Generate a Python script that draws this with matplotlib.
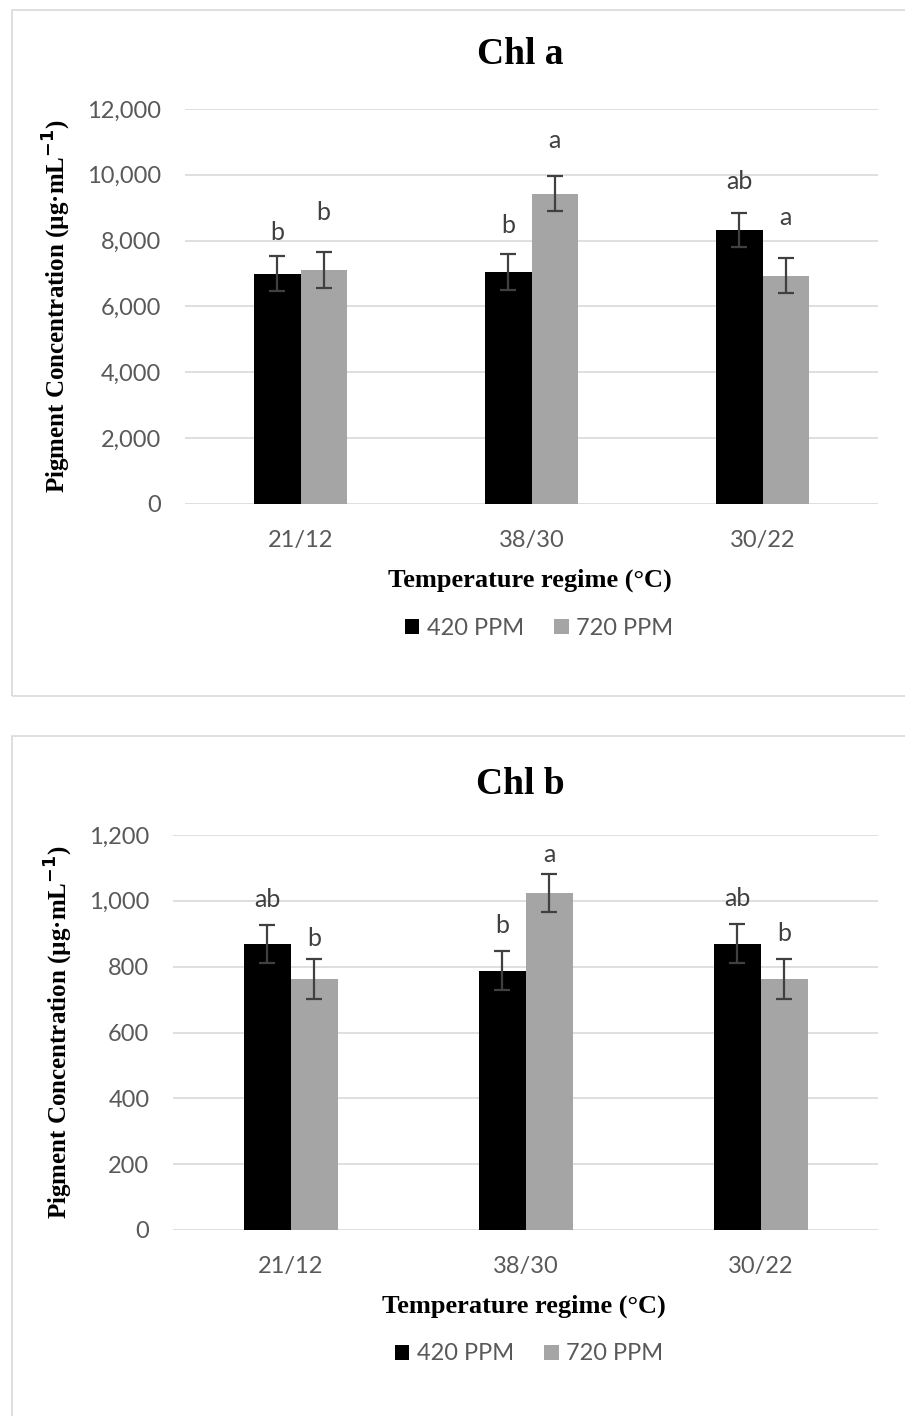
import matplotlib.pyplot as plt
from matplotlib.patches import Rectangle
from matplotlib.ticker import FuncFormatter
import numpy as np

# regimes and CO2 levels
regimes = ['21/12', '38/30', '30/22']
series = ['420 PPM', '720 PPM']

# Chl a means and SE
chla_420 = [7000, 7050, 8320]
chla_720 = [7110, 9430, 6940]
chla_420_err = [530, 535, 525]
chla_720_err = [540, 535, 545]
chla_letters_420 = ['b', 'b', 'ab']
chla_letters_720 = ['b', 'a', 'a']

# Chl b means and SE
chlb_420 = [870, 788, 870]
chlb_720 = [763, 1024, 763]
chlb_420_err = [58, 60, 60]
chlb_720_err = [60, 58, 60]
chlb_letters_420 = ['ab', 'b', 'ab']
chlb_letters_720 = ['b', 'a', 'b']

SANS = 'Lato'
SERIF = 'Liberation Serif'
BAR_COLORS = ['#000000', '#a5a5a5']
W, H = 905, 1416

fig = plt.figure(figsize=(W / 100, H / 100), dpi=100)


def fx(px):
    return px / W


def fy(py):
    return 1 - py / H


def panel(rect, title, title_y, vals, errs, letters, gaps, ymax, ystep,
          xlab_y, leg_x, leg_y):
    ax = fig.add_axes(rect)
    x = np.arange(len(regimes))
    w = 0.2
    for i, (v, e, lab, gap) in enumerate(zip(vals, errs, letters, gaps)):
        pos = x - w / 2 + i * w
        ax.bar(pos, v, w, color=BAR_COLORS[i], label=series[i], zorder=2,
               edgecolor='none')
        ax.errorbar(pos, v, yerr=e, fmt='none', ecolor='#404040',
                    elinewidth=1.6, capsize=6, capthick=1.6, zorder=3)
        for xp, vv, ee, t, g in zip(pos, v, e, lab, gap):
            ax.annotate(t, (xp, vv + ee), xytext=(0, g * 0.72),
                        textcoords='offset points', ha='center',
                        va='baseline', fontsize=18, color='#404040',
                        family=SANS)
    ax.set_xlim(-0.5, len(regimes) - 0.5)
    ax.set_ylim(0, ymax)
    ax.set_yticks(np.arange(0, ymax + 1, ystep))
    ax.yaxis.set_major_formatter(FuncFormatter(lambda v, p: f'{v:,.0f}'))
    ax.set_xticks(x)
    ax.set_xticklabels(regimes)
    ax.grid(axis='y', color='#d9d9d9', linewidth=1.2, zorder=0)
    ax.set_axisbelow(True)
    for s in ax.spines.values():
        s.set_visible(False)
    ax.tick_params(length=0, labelsize=17, labelcolor='#595959')
    ax.tick_params(axis='y', pad=17)
    ax.tick_params(axis='x', pad=19)
    for lbl in ax.get_xticklabels() + ax.get_yticklabels():
        lbl.set_family(SANS)
    ax.set_ylabel('Pigment Concentration (µg·mL$^{\\mathbf{-1}}$)',
                  family=SERIF, fontweight='bold', fontsize=18, labelpad=10)
    fig.text(fx(520), fy(title_y), title, ha='center', va='center',
             family=SERIF, fontweight='bold', fontsize=27)
    fig.text(rect[0] + rect[2] / 2 - fx(2), fy(xlab_y), 'Temperature regime (°C)',
             ha='center', va='center', family=SERIF, fontweight='bold',
             fontsize=19)
    fig.legend(*ax.get_legend_handles_labels(), loc='center',
               bbox_to_anchor=(fx(leg_x), fy(leg_y)), ncol=2, frameon=False,
               handlelength=0.6, handleheight=0.6, handletextpad=0.3,
               columnspacing=1.3, prop={'family': SANS, 'size': 17},
               labelcolor='#595959')
    return ax


# chart frames
for top, bottom in [(10, 696), (736, 1430)]:
    fig.patches.append(Rectangle((fx(12), fy(bottom)), fx(W), fy(top) - fy(bottom),
                                 transform=fig.transFigure, fill=False,
                                 edgecolor='#d9d9d9', linewidth=1.2))

panel([fx(185), fy(504), fx(693), fy(109) - fy(504)], 'Chl a', 55,
      [chla_420, chla_720], [chla_420_err, chla_720_err],
      [chla_letters_420, chla_letters_720],
      [[16, 21, 24], [32, 28, 33]], 12000, 2000, 580, 539, 628)

panel([fx(173), fy(1230), fx(705), fy(835) - fy(1230)], 'Chl b', 785,
      [chlb_420, chlb_720], [chlb_420_err, chlb_720_err],
      [chlb_letters_420, chlb_letters_720],
      [[18, 18, 18], [13, 12, 18]], 1200, 200, 1306, 529, 1354)

fig.savefig('out.png', dpi=100)
